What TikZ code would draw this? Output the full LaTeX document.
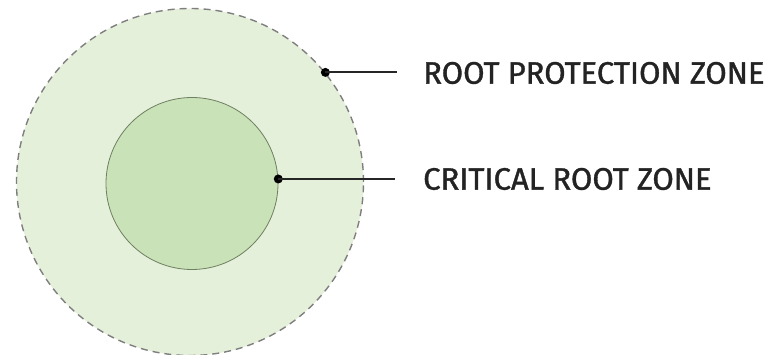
\documentclass[tikz,border=0pt]{standalone}
\usepackage{fontspec}
\setmainfont{Fira Sans}
\newfontfamily\zonefont{Fira Sans}[FakeBold=1.2]
\definecolor{outerfill}{HTML}{E5F0DA}
\definecolor{innerfill}{HTML}{C9E2B7}
\definecolor{innerline}{HTML}{6F7F62}
\definecolor{dashgrey}{HTML}{7F7F7F}
\definecolor{labeltext}{HTML}{232323}
\begin{document}
\begin{tikzpicture}[x=1pt,y=-1pt,
  zonelabel/.style={anchor=west,inner sep=0pt,font=\zonefont\fontsize{31}{36}\selectfont,text=labeltext},
  leader/.style={draw=black!85,line width=1.8pt},
  dotmark/.style={circle,fill=black,inner sep=0pt,minimum size=9pt}]
\useasboundingbox (0,0) rectangle (779,355);
\node[circle,draw=dashgrey,dashed,dash pattern=on 7pt off 5pt,line width=1.4pt,fill=outerfill,minimum size=347pt,inner sep=0pt] (outer) at (190,182) {};
\node[circle,draw=innerline,line width=0.8pt,fill=innerfill,minimum size=172pt,inner sep=0pt] (inner) at (192,183.5) {};
\node[dotmark] (d1) at (outer.39) {};
\node[dotmark] (d2) at (inner.3) {};
\coordinate (e1) at (397,72);
\coordinate (e2) at (395,179);
\draw[leader] (d1.center) -- (d1.center -| e1);
\draw[leader] (d2.center) -- (d2.center -| e2);
\node[zonelabel] (l1) at (423,73) {ROOT PROTECTION ZONE};
\node[zonelabel] (l2) at (423,179) {CRITICAL ROOT ZONE};
\end{tikzpicture}
\end{document}
